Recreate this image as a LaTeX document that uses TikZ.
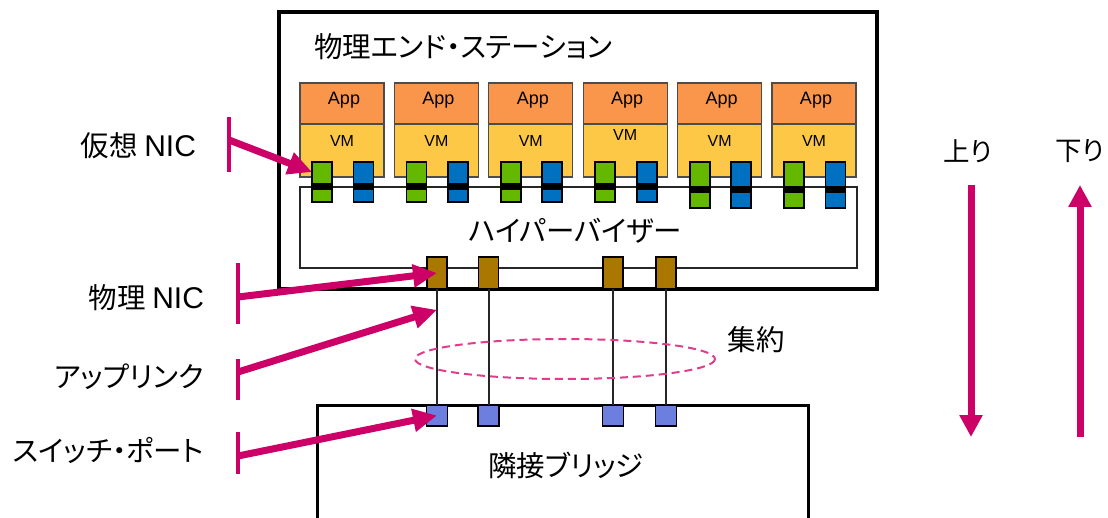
\documentclass[tikz,border=0pt]{standalone}
\usepackage{fontspec}
\setmainfont{Liberation Sans}
\newfontfamily\jp{Noto Sans CJK JP}[RawFeature=+palt]
\usetikzlibrary{arrows.meta,calc}
\definecolor{appc}{RGB}{250,150,75}
\definecolor{vmc}{RGB}{253,200,70}
\definecolor{vgreen}{RGB}{100,185,0}
\definecolor{vblue}{RGB}{0,112,192}
\definecolor{nicc}{RGB}{170,120,0}
\definecolor{portc}{RGB}{108,126,222}
\definecolor{mag}{RGB}{204,0,102}
\definecolor{aggc}{RGB}{225,60,140}
\tikzset{
  big/.style={font=\fontsize{28.5}{32}\selectfont\jp, inner sep=0, outer sep=0},
  dirtxt/.style={font=\fontsize{26.5}{30}\selectfont\jp, inner sep=0, outer sep=0},
  small/.style={font=\fontsize{18}{20}\selectfont, inner sep=0},
  vmtxt/.style={font=\fontsize{16}{18}\selectfont, inner sep=0},
  appbox/.style={draw=black!70, line width=1.3, fill=appc, minimum width=84, minimum height=41, anchor=north west, inner sep=0, outer sep=0},
  vmbox/.style={draw=black!70, line width=1.3, fill=vmc, minimum width=84, minimum height=53, anchor=north west, inner sep=0, outer sep=0},
  vnic/.style={draw=black, line width=1.8, minimum width=20, inner sep=0, outer sep=0},
  nicbox/.style={draw=black, line width=1.8, fill=nicc, minimum width=20, minimum height=32, inner sep=0, outer sep=0},
  portbox/.style={draw=black, line width=1.8, fill=portc, minimum width=21, minimum height=21, inner sep=0, outer sep=0},
  callout/.style={mag, line width=7, -{Triangle[length=24,width=22]}},
  tick/.style={mag, line width=4},
  dirarrow/.style={mag, line width=7, -{Triangle[length=22,width=22]}},
}
\begin{document}
\begin{tikzpicture}[x=1pt,y=-1pt]
\useasboundingbox (0,0) rectangle (1108,518);
\clip (0,0) rectangle (1108,518);
\fill[white] (0,0) rectangle (1108,518);

% physical end station
\node[draw=black, line width=4, minimum width=598, minimum height=277, anchor=north west, inner sep=0, outer sep=0] (station) at (279,12) {};
\node[big, anchor=west] (title) at (314,47) {物理エンド・ステーション};

% hypervisor
\node[draw=black!85, line width=2.5, minimum width=557, minimum height=81, anchor=north west, inner sep=0, outer sep=0] (hyp) at (300,187) {};
\node[big] (hyptxt) at (575,231) {ハイパーバイザー};

% VMs
\foreach \i/\vy/\nb in {0/141/202,1/141/202,2/141/202,3/135/202,4/141/208,5/141/208} {
  \pgfmathsetmacro\xl{300+94.4*\i}
  \node[appbox] (app\i) at (\xl,83) {};
  \node[small] at ($(app\i.center)+(2,-3)$) {App};
  \node[vmbox] (vm\i) at (\xl,124) {};
  \node[vmtxt] at ($(vm\i.north)+(0,\vy-124)$) {VM};
  \pgfmathsetmacro\nh{\nb-162}
  \pgfmathsetmacro\nc{(\nb+162)/2}
  \node[vnic, fill=vgreen, minimum height=\nh] (vg\i) at (\xl+22,\nc) {};
  \node[vnic, fill=vblue, minimum height=\nh] (vb\i) at (\xl+63.5,\nc) {};
  \pgfmathsetmacro\by{\nb==202 ? 187 : 189.5}
  \draw[black, line width=7] (vg\i.west |- 0,\by) -- (vg\i.east |- 0,\by);
  \draw[black, line width=7] (vb\i.west |- 0,\by) -- (vb\i.east |- 0,\by);
}

% adjacent bridge
\node[draw=black, line width=3, minimum width=491, minimum height=120, anchor=north west, inner sep=0, outer sep=0] (bridge) at (317,405) {};
\node[big] (brtxt) at (566,465) {隣接ブリッジ};

% physical NICs, ports and uplinks
\foreach \k/\x in {1/437,2/488.5,3/613,4/666} {
  \node[nicbox] (nic\k) at (\x,273) {};
  \node[portbox] (port\k) at (\x,415.5) {};
  \draw[black!85, line width=2] (nic\k.south) -- (port\k.north);
}

% aggregation
\draw[aggc, line width=2, dash pattern=on 8pt off 5pt] (565,359) ellipse [x radius=150, y radius=20];
\node[big] (agg) at (756,340) {集約};

% left labels and callouts
\node[big, anchor=east] (lvnic) at (196,146) {仮想 {\rmfamily\fontsize{30}{32}\selectfont NIC}};
\node[big, anchor=east] (lpnic) at (204,298) {物理 {\rmfamily\fontsize{30}{32}\selectfont NIC}};
\node[big, anchor=east] (lup) at (204,377) {アップリンク};
\node[big, anchor=east] (lport) at (204,450) {スイッチ・ポート};

\coordinate (t1a) at (229,117); \coordinate (t1b) at (229,172); \coordinate (t1) at (229,140);
\coordinate (t2a) at (238,263); \coordinate (t2b) at (238,324); \coordinate (t2) at (238,297);
\coordinate (t3a) at (238,359); \coordinate (t3b) at (238,400); \coordinate (t3) at (238,372);
\coordinate (t4a) at (238,432); \coordinate (t4b) at (238,474); \coordinate (t4) at (238,456);
\draw[tick] (t1a) -- (t1b);
\draw[tick] (t2a) -- (t2b);
\draw[tick] (t3a) -- (t3b);
\draw[tick] (t4a) -- (t4b);
\draw[callout] (t1) -- ($(vg0.west)!0.5!(vg0.north west)$);
\draw[callout] (t2) -- (nic1.center);
\draw[callout] (t3) -- ($(nic1.south)!0.18!(port1.north)$);
\draw[callout] (t4) -- (port1.center);

% direction arrows
\node[dirtxt] (upl) at (968,151) {上り};
\node[dirtxt] (dnl) at (1080,151) {下り};
\coordinate (u1) at (971,185); \coordinate (u2) at (971,437);
\coordinate (d1) at (1080,437); \coordinate (d2) at (1080,185);
\draw[dirarrow] (u1) -- (u2);
\draw[dirarrow] (d1) -- (d2);
\end{tikzpicture}
\end{document}
